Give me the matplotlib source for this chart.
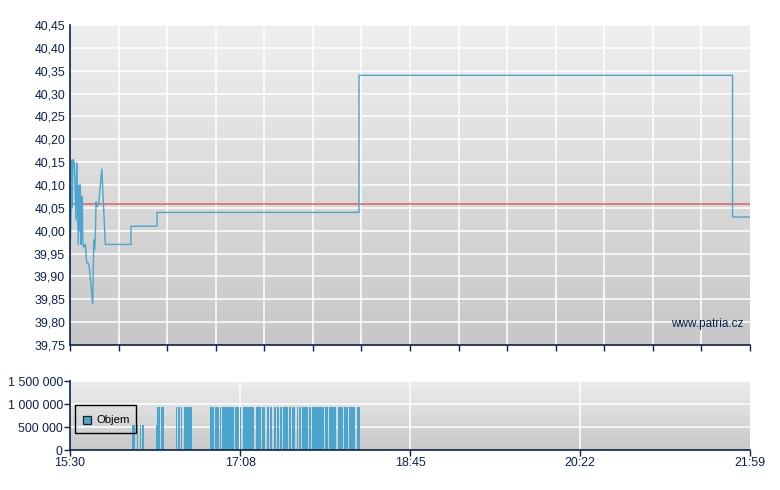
import numpy as np
import matplotlib
matplotlib.use('Agg')
from matplotlib import pyplot as plt
from matplotlib.colors import LinearSegmentedColormap
from matplotlib import patches as pts

# minutes since 15:30 and last price
t_price = [0.3, 1.14, 1.3, 1.72, 2.46, 2.86, 3.43, 3.83, 4.18, 4.75, 5.15, 5.55,
           5.89, 6.29, 6.69, 7.04, 7.27, 7.61, 8.41, 8.75, 9.55, 10.1, 10.9, 12.96,
           13.6, 14.1, 14.5, 14.9, 15.6, 16.4, 18.2, 20.2, 34.9, 34.9, 49.8, 49.8,
           165.3, 165.3, 379.0, 379.0, 389.0]
price = [39.98, 40.155, 40.05, 40.155, 40.148, 40.10, 40.023, 40.148, 40.08, 39.97,
         40.10, 40.00, 40.10, 39.97, 40.075, 40.075, 39.987, 39.965, 39.965, 39.97,
         39.93, 39.93, 39.925, 39.84, 39.98, 39.958, 39.985, 40.063, 40.053, 40.06,
         40.135, 39.97, 39.97, 40.01, 40.01, 40.04, 40.04, 40.34, 40.34, 40.03, 40.03]
prev_close = 40.058

# volume bars: start / end (minutes since 15:30) and volume
vol_start = [35.5, 38.3, 39.9, 41.4, 49.2, 49.8, 52.2, 60.5, 62.0, 63.3, 65.2, 80.1,
             83.0, 85.8, 86.7, 94.4, 97.3, 98.7, 100.7, 106.4, 109.8, 112.7, 114.4,
             116.7, 118.4, 120.1, 121.9, 125.3, 127.0, 129.9, 131.0, 132.7, 136.7,
             138.4, 145.9, 148.2, 153.3, 156.8, 159.6, 164.2]
vol_end = [37.2, 38.9, 40.4, 42.2, 49.8, 51.5, 53.8, 61.2, 62.8, 64.1, 69.8, 82.4,
           85.2, 86.4, 93.8, 96.7, 98.1, 100.4, 105.3, 109.3, 111.6, 113.8, 115.6,
           117.8, 119.6, 121.3, 124.7, 126.4, 128.7, 130.4, 132.2, 136.2, 137.9,
           145.3, 147.6, 152.2, 156.2, 159.0, 163.0, 165.9]
volume = [545000] * 5 + [935000] * 35

t_end = 389
time_labels = ['15:30', '17:08', '18:45', '20:22', '21:59']
price_ticks = np.round(np.arange(39.75, 40.451, 0.05), 2)
vol_ticks = [0, 500000, 1000000, 1500000]

navy = '#0b2150'
blue = '#4aa6cf'
plt.rcParams['font.family'] = ['Liberation Sans', 'DejaVu Sans']
plt.rcParams['font.size'] = 8.9

fig = plt.figure(figsize=(7.8, 4.9), dpi=100)
ax1 = fig.add_axes([70/780, 1-345/490, 680/780, 320/490])
ax2 = fig.add_axes([70/780, 1-450/490, 680/780, 69/490])


def gradient(ax, top, bottom):
    cm = LinearSegmentedColormap.from_list('g', [top, bottom])
    ax.imshow(np.linspace(0, 1, 256).reshape(-1, 1), cmap=cm, aspect='auto',
              extent=[0, 1, 0, 1], transform=ax.transAxes, zorder=0)


for ax in (ax1, ax2):
    for s in ('top', 'right'):
        ax.spines[s].set_visible(False)
    for s in ('left', 'bottom'):
        ax.spines[s].set_color(navy)
        ax.spines[s].set_linewidth(1.2)
        ax.spines[s].set_zorder(5)
    ax.tick_params(colors=navy, labelcolor=navy, width=1)

# price chart
gradient(ax1, '#efefef', '#c7c7c7')
xgrid = np.linspace(0, t_end, 15)
for x in xgrid[1:-1]:
    ax1.axvline(x, color='white', lw=1.1, zorder=1)
for y in price_ticks[1:]:
    ax1.axhline(y, color='white', lw=1.1, zorder=1)
ax1.axhline(prev_close, color='#e06060', lw=1.1, zorder=2)
ax1.plot(t_price, price, color=blue, lw=1.0, zorder=3)
ax1.set_xlim(0, t_end)
ax1.set_ylim(39.75, 40.45)
ax1.set_xticks(xgrid)
ax1.set_xticklabels([])
ax1.set_yticks(price_ticks)
ax1.set_yticklabels(['{:.2f}'.format(v).replace('.', ',') for v in price_ticks])
ax1.tick_params(axis='x', direction='out', length=4)
ax1.tick_params(axis='y', length=0, pad=3.5)
ax1.text(0.99, 0.066, 'www.patria.cz', transform=ax1.transAxes, ha='right',
         va='center', color=navy, fontsize=8.5, zorder=4)

# volume chart
gradient(ax2, '#ededed', '#c8c8c8')
xlab = np.linspace(0, t_end, len(time_labels))
for x in xlab[1:-1]:
    ax2.axvline(x, color='white', lw=1.1, zorder=1)
for y in vol_ticks[1:]:
    ax2.axhline(y, color='white', lw=1.1, zorder=1)
widths = [e - s for s, e in zip(vol_start, vol_end)]
ax2.bar(vol_start, volume, width=widths, align='edge', color=blue,
        edgecolor='none', zorder=3)
ax2.set_xlim(0, t_end)
ax2.set_ylim(0, 1500000)
ax2.set_xticks(xlab)
ax2.set_xticklabels(time_labels)
ax2.set_yticks(vol_ticks)
ax2.set_yticklabels(['{:,}'.format(v).replace(',', ' ') for v in vol_ticks])
ax2.tick_params(axis='both', direction='out', length=4, pad=1.2)

# legend box
ax2.add_patch(pts.Rectangle((0.0074, 0.246), 0.0897, 0.406, transform=ax2.transAxes,
                            facecolor='none', edgecolor='black', lw=1, zorder=6))
ax2.add_patch(pts.Rectangle((0.0196, 0.377), 0.0118, 0.116, transform=ax2.transAxes,
                            facecolor=blue, edgecolor='#222222', lw=0.9, zorder=6))
ax2.text(0.0395, 0.435, 'Objem', transform=ax2.transAxes, ha='left', va='center',
         color='black', fontsize=8.2, zorder=6)

fig.savefig('out.png', dpi=100)
